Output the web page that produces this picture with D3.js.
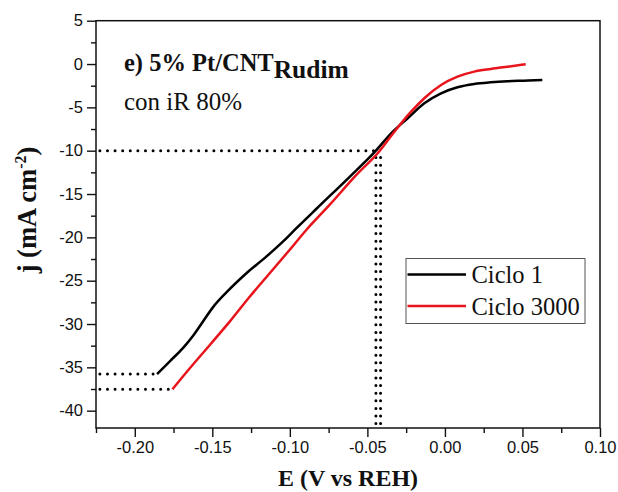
<!DOCTYPE html>
<html>
<head>
<meta charset="utf-8">
<script src="https://cdn.jsdelivr.net/npm/d3@7"></script>
<style>
  html, body { margin: 0; padding: 0; background: #fff; }
  svg { display: block; }
</style>
</head>
<body>
<svg id="chart" width="618" height="492"></svg>
<script>
// Polarisation curves (E vs REH in V, j in mA cm^-2)
const cycle1E = [-0.1856, -0.1774, -0.1688, -0.1624, -0.1560, -0.1495, -0.1409, -0.1280, -0.1152, -0.1045, -0.0969, -0.0830, -0.0616, -0.0445, -0.0347, -0.0240, -0.0133, -0.0025, 0.0081, 0.0189, 0.0296, 0.0403, 0.0510, 0.0628];
const cycle1J = [-35.77, -34.30, -32.75, -31.35, -29.70, -28.05, -26.35, -24.14, -22.23, -20.50, -19.15, -16.73, -13.04, -10.0, -7.99, -6.26, -4.53, -3.38, -2.68, -2.30, -2.11, -1.99, -1.92, -1.84];

const cycle3000E = [-0.1757, -0.1645, -0.1516, -0.1388, -0.1259, -0.1130, -0.1002, -0.0894, -0.0744, -0.0583, -0.0420, -0.0326, -0.0218, -0.0133, -0.0025, 0.0081, 0.0189, 0.0296, 0.0403, 0.0521];
const cycle3000J = [-37.53, -35.11, -32.42, -29.73, -26.85, -24.15, -21.46, -19.15, -16.26, -13.03, -10.0, -7.81, -5.50, -3.95, -2.42, -1.46, -0.88, -0.57, -0.31, -0.03];

const seriesNames = ["Ciclo 1", "Ciclo 3000"];
const seriesColors = ["#000000", "#e8141c"];

// Reference values marked with dotted guides
const jRef = -10;
const eAtJRef = [-0.0445, -0.0415];
const jLimit = [-35.77, -37.53];
const eLimit = [-0.1856, -0.1757];

const xTicks = [-0.20, -0.15, -0.10, -0.05, 0.00, 0.05, 0.10];
const xMinorTicks = [-0.225, -0.175, -0.125, -0.075, -0.025, 0.025, 0.075];
const yTicks = [5, 0, -5, -10, -15, -20, -25, -30, -35, -40];
const yMinorTicks = [2.5, -2.5, -7.5, -12.5, -17.5, -22.5, -27.5, -32.5, -37.5];

const svg = d3.select("#chart");
const m = { left: 96, top: 20.7, right: 18, bottom: 64 };
const W = 618, H = 492;

const x = d3.scaleLinear().domain([-0.225, 0.10]).range([m.left, W - m.right]);
const y = d3.scaleLinear().domain([-42, 5]).range([H - m.bottom, m.top]);

const serif = "'Liberation Serif', 'Times New Roman', serif";
const sans = "'Liberation Sans', Arial, sans-serif";

// Axes
const fmtX = d => d3.format(".2f")(d).replace("−", "-");
const fmtY = d => String(d);

const xAxis = svg.append("g")
  .attr("transform", `translate(0,${y(-42)})`)
  .call(d3.axisBottom(x).tickValues(xTicks).tickFormat(fmtX).tickSize(9).tickPadding(4));
const xMinor = svg.append("g")
  .attr("transform", `translate(0,${y(-42)})`)
  .call(d3.axisBottom(x).tickValues(xMinorTicks).tickFormat("").tickSize(5));
const yAxis = svg.append("g")
  .attr("transform", `translate(${x(-0.225)},0)`)
  .call(d3.axisLeft(y).tickValues(yTicks).tickFormat(fmtY).tickSize(9).tickPadding(4));
const yMinor = svg.append("g")
  .attr("transform", `translate(${x(-0.225)},0)`)
  .call(d3.axisLeft(y).tickValues(yMinorTicks).tickFormat("").tickSize(5));

[xAxis, xMinor, yAxis, yMinor].forEach(g => {
  g.select(".domain").remove();
  g.selectAll(".tick line").attr("stroke", "#111").attr("stroke-width", 1.4);
  g.selectAll(".tick text")
    .attr("font-family", sans).attr("font-size", 16.5).attr("fill", "#111");
});

// Plot frame
svg.append("rect")
  .attr("x", x(-0.225)).attr("y", y(5))
  .attr("width", x(0.10) - x(-0.225)).attr("height", y(-42) - y(5))
  .attr("fill", "none").attr("stroke", "#111").attr("stroke-width", 1.5);

// Dotted guide lines
const dotted = (pts) => svg.append("path")
  .attr("d", d3.line().x(d => x(d[0])).y(d => y(d[1]))(pts))
  .attr("fill", "none").attr("stroke", "#000")
  .attr("stroke-width", 3).attr("stroke-linecap", "round")
  .attr("stroke-dasharray", "0 7.6");

dotted([[-0.2225, jRef], [eAtJRef[0], jRef]]);
eAtJRef.forEach(e => dotted([[e, jRef - 0.8], [e, -41.6]]));
jLimit.forEach((j, i) => dotted([[-0.2225, j], [eLimit[i], j]]));

// Curves
const line = d3.line().x(d => x(d[0])).y(d => y(d[1])).curve(d3.curveMonotoneX);
const series = [
  d3.zip(cycle1E, cycle1J),
  d3.zip(cycle3000E, cycle3000J)
];
series.forEach((pts, i) => {
  svg.append("path")
    .attr("d", line(pts))
    .attr("fill", "none")
    .attr("stroke", seriesColors[i])
    .attr("stroke-width", 2.5)
    .attr("stroke-linejoin", "round");
});

// Annotation text
const title = svg.append("text")
  .attr("x", 124).attr("y", 71)
  .attr("font-family", serif).attr("font-weight", "bold").attr("font-size", 24.5)
  .attr("fill", "#111");
title.append("tspan").text("e) 5% Pt/CNT");
title.append("tspan").attr("dy", 7).attr("font-size", 25.5).text("Rudim");

svg.append("text")
  .attr("x", 124).attr("y", 110)
  .attr("font-family", serif).attr("font-size", 25).attr("fill", "#111")
  .text("con iR 80%");

// Axis titles
svg.append("text")
  .attr("x", (x(-0.225) + x(0.10)) / 2).attr("y", 486)
  .attr("text-anchor", "middle")
  .attr("font-family", serif).attr("font-weight", "bold").attr("font-size", 24)
  .attr("fill", "#111")
  .text("E (V vs REH)");

const yTitle = svg.append("text")
  .attr("transform", "translate(36,210) rotate(-90)")
  .attr("text-anchor", "middle")
  .attr("font-family", serif).attr("font-weight", "bold").attr("font-size", 26.5)
  .attr("fill", "#111");
yTitle.append("tspan").text("j (mA cm");
yTitle.append("tspan").attr("dy", -10).attr("font-size", 16).text("-2");
yTitle.append("tspan").attr("dy", 10).text(")");

// Legend
const lg = svg.append("g");
lg.append("rect")
  .attr("x", 406).attr("y", 258.5).attr("width", 179).attr("height", 65)
  .attr("fill", "#fff").attr("stroke", "#555").attr("stroke-width", 1);
seriesNames.forEach((name, i) => {
  const ly = 274.5 + i * 31.5;
  lg.append("line")
    .attr("x1", 407.5).attr("x2", 466).attr("y1", ly).attr("y2", ly)
    .attr("stroke", seriesColors[i]).attr("stroke-width", 2.5);
  lg.append("text")
    .attr("x", 471.5).attr("y", ly + 8.5)
    .attr("font-family", serif).attr("font-size", 24.5).attr("fill", "#111")
    .text(name);
});
</script>
</body>
</html>
